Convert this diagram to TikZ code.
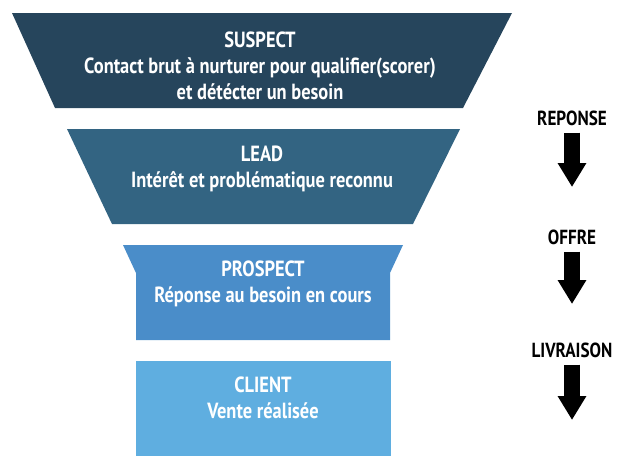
\documentclass[tikz,border=0pt]{standalone}
\usepackage{fontspec}
\setmainfont{PT Sans}[FakeStretch=0.84]
\usepackage{xcolor}
\usetikzlibrary{arrows.meta, positioning}

\definecolor{suspectblue}{HTML}{26455C}
\definecolor{leadblue}{HTML}{336482}
\definecolor{prospectblue}{HTML}{4A8DC9}
\definecolor{clientblue}{HTML}{5FAEE0}

\tikzset{
    stagetext/.style={text=white, align=center, font=\bfseries\fontsize{15.6}{18.5}\selectfont},
    steplabel/.style={font=\bfseries\fontsize{14.5}{16}\selectfont, inner sep=1pt},
    fatarrow/.style={line width=10.7pt, -{Triangle[length=17pt, width=19.2pt]}}
}

\begin{document}
\begin{tikzpicture}[x=0.025cm, y=-0.025cm]
    \useasboundingbox (0, 0) rectangle (626, 474);

    % entonnoir
    \fill[suspectblue] (12, 13) -- (512, 13) -- (463, 108) -- (55, 108) -- cycle;
    \fill[leadblue] (67, 129) -- (460, 129) -- (413, 224) -- (112, 224) -- cycle;
    \fill[prospectblue] (123, 245) -- (403, 245) -- (390, 273) -- (390, 340) -- (136, 340) -- (136, 273) -- cycle;
    \fill[clientblue] (136, 361) rectangle (391, 456);

    % textes des etapes
    \node[stagetext] (suspect) at (260, 66) {SUSPECT\\Contact brut à nurturer pour qualifier(scorer)\\et détécter un besoin};
    \node[stagetext] (lead) at (262, 169) {LEAD\\Intérêt et problématique reconnu};
    \node[stagetext] (prospect) at (263, 284) {PROSPECT\\Réponse au besoin en cours};
    \node[stagetext] (client) at (263, 398) {CLIENT\\Vente réalisée};

    % fleches
    \node[steplabel] (reponse) at (572, 118) {REPONSE};
    \coordinate (reponse-end) at (572, 187);
    \draw[fatarrow, shorten <=4pt] (reponse.south) -- (reponse-end);

    \node[steplabel] (offre) at (572, 237) {OFFRE};
    \coordinate (offre-end) at (572, 304);
    \draw[fatarrow, shorten <=4pt] (offre.south) -- (offre-end);

    \node[steplabel] (livraison) at (572, 350) {LIVRAISON};
    \coordinate (livraison-end) at (572, 420);
    \draw[fatarrow, shorten <=4pt] (livraison.south) -- (livraison-end);
\end{tikzpicture}
\end{document}
